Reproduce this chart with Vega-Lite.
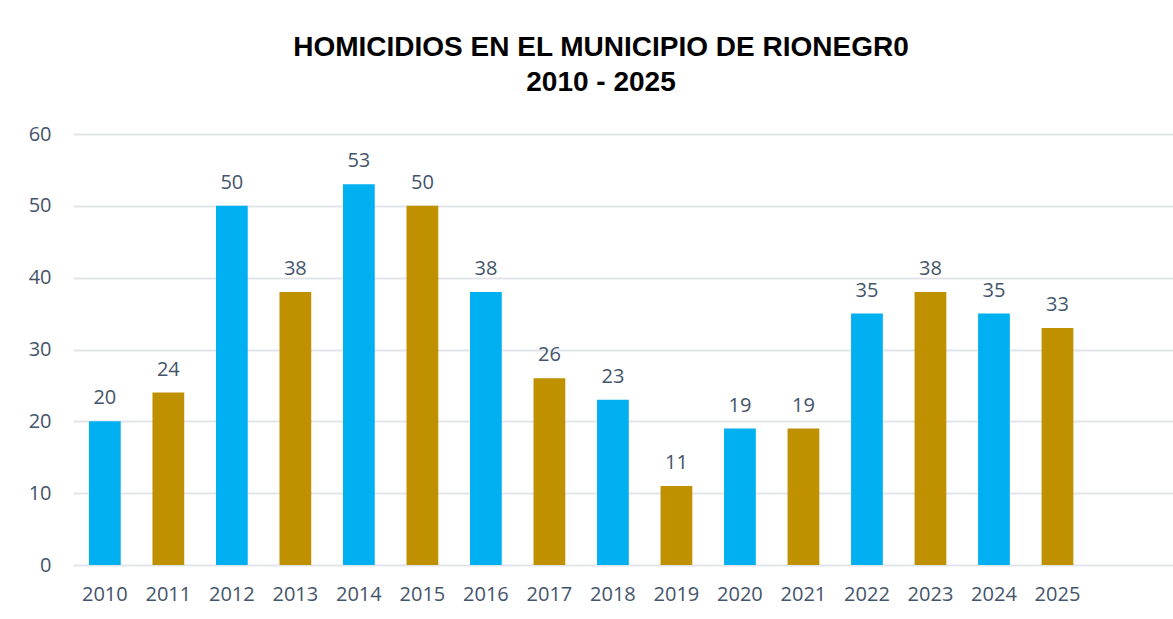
{
  "$schema": "https://vega.github.io/schema/vega-lite/v6.json",
  "width": 1100,
  "height": 431,
  "autosize": {"type": "none"},
  "padding": {"left": 73, "top": 134, "right": 0, "bottom": 54},
  "background": "#FFFFFF",
  "title": {
    "text": ["HOMICIDIOS EN EL MUNICIPIO DE RIONEGR0", "2010 - 2025"],
    "anchor": "middle",
    "dx": -22,
    "offset": 27,
    "font": "Liberation Sans",
    "fontSize": 28,
    "fontWeight": "bold",
    "color": "#000000",
    "lineHeight": 35
  },
  "data": {
    "values": [
      {"year": 2010, "homicidios": 20},
      {"year": 2011, "homicidios": 24},
      {"year": 2012, "homicidios": 50},
      {"year": 2013, "homicidios": 38},
      {"year": 2014, "homicidios": 53},
      {"year": 2015, "homicidios": 50},
      {"year": 2016, "homicidios": 38},
      {"year": 2017, "homicidios": 26},
      {"year": 2018, "homicidios": 23},
      {"year": 2019, "homicidios": 11},
      {"year": 2020, "homicidios": 19},
      {"year": 2021, "homicidios": 19},
      {"year": 2022, "homicidios": 35},
      {"year": 2023, "homicidios": 38},
      {"year": 2024, "homicidios": 35},
      {"year": 2025, "homicidios": 33}
    ]
  },
  "encoding": {
    "x": {
      "field": "year",
      "type": "ordinal",
      "scale": {"paddingInner": 0.5, "paddingOuter": 0.91, "align": 0.138},
      "axis": {
        "title": null,
        "labelAngle": 0,
        "labelFont": "Open Sans",
        "labelFontSize": 20,
        "labelColor": "#44546A",
        "labelPadding": 19,
        "ticks": false,
        "domain": false,
        "grid": false
      }
    },
    "y": {
      "field": "homicidios",
      "type": "quantitative",
      "scale": {"domain": [0, 60]},
      "axis": {
        "title": null,
        "values": [0, 10, 20, 30, 40, 50, 60],
        "labelFont": "Open Sans",
        "labelFontSize": 20,
        "labelColor": "#44546A",
        "labelPadding": 22,
        "ticks": false,
        "domain": false,
        "grid": true,
        "gridColor": "#E1E5EB",
        "gridWidth": 2
      }
    }
  },
  "layer": [
    {
      "mark": {"type": "bar"},
      "encoding": {
        "color": {
          "condition": {"test": "datum.year % 2 === 0", "value": "#00B0F0"},
          "value": "#BF9000"
        }
      }
    },
    {
      "mark": {
        "type": "text",
        "baseline": "bottom",
        "dy": -13,
        "font": "Open Sans",
        "fontSize": 20,
        "color": "#44546A"
      },
      "encoding": {
        "text": {"field": "homicidios", "type": "quantitative"}
      }
    }
  ],
  "config": {"view": {"stroke": null}}
}
